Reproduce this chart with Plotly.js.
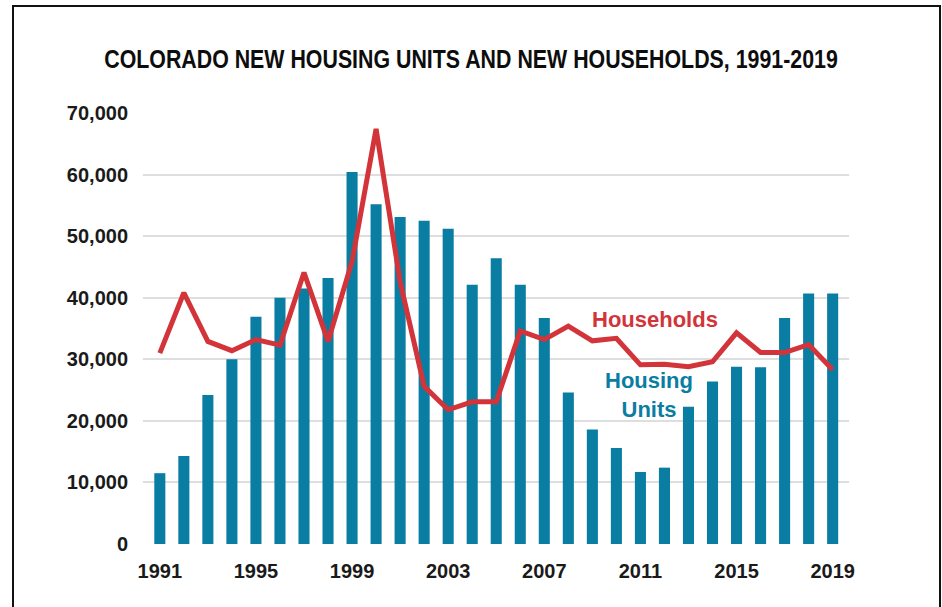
<!DOCTYPE html>
<html>
<head>
<meta charset="utf-8">
<script src="https://cdn.plot.ly/plotly-3.0.1.min.js"></script>
<style>
  html, body { margin: 0; padding: 0; background: #fff; }
  #wrap { position: relative; width: 942px; height: 607px; }
  #chart { position: absolute; left: 0; top: 0; width: 942px; height: 607px; }
  #frame { position: absolute; left: 12px; top: 5px; width: 925px; height: 610px;
           border-left: 2px solid #111; border-right: 2px solid #111; border-top: 2px solid #111;
           pointer-events: none; }
</style>
</head>
<body>
<div id="wrap">
  <div id="chart"></div>
  <div id="frame"></div>
</div>
<script>
const years = [1991,1992,1993,1994,1995,1996,1997,1998,1999,2000,2001,2002,2003,2004,2005,
               2006,2007,2008,2009,2010,2011,2012,2013,2014,2015,2016,2017,2018,2019];
const housingUnits = [11500,14300,24200,30000,36900,40000,41500,43200,60400,55200,53100,52500,51200,42100,46400,
                      42100,36700,24600,18600,15600,11700,12400,22300,26400,28800,28700,36700,40700,40700];
const households = [31000,40800,32900,31400,33200,32300,44100,32900,45900,67400,42600,25600,21800,23100,23100,
                    34600,33200,35400,33000,33400,29100,29200,28800,29600,34300,31100,31100,32400,28300];
const xTickVals = [1991,1995,1999,2003,2007,2011,2015,2019];
const yTickVals = [0,10000,20000,30000,40000,50000,60000,70000];
const titleText = "COLORADO NEW HOUSING UNITS AND NEW HOUSEHOLDS, 1991-2019";

const teal = "#0A7DA2";
const red = "#D2343A";
const tickFont = { family: "Liberation Sans, Arial, sans-serif", size: 20, color: "#1a1a1a", weight: "bold" };

const traces = [
  { type: "bar", x: years, y: housingUnits, marker: { color: teal }, width: 0.46,
    name: "Housing Units", hoverinfo: "x+y" },
  { type: "scatter", mode: "lines", x: years, y: households,
    line: { color: red, width: 5, shape: "linear" }, name: "Households" }
];

const layout = {
  width: 942, height: 607,
  margin: { l: 143, r: 93, t: 113, b: 63 },
  paper_bgcolor: "#fff", plot_bgcolor: "#fff",
  showlegend: false,
  title: { text: "<b>" + titleText + "</b>", x: 0.5, xanchor: "center", y: 0.903, yanchor: "middle",
           xref: "paper",
           font: { family: "Liberation Sans, Arial, sans-serif", size: 26, color: "#0d0d0d" } },
  xaxis: { range: [1990.3, 2019.68], tickvals: xTickVals, ticktext: xTickVals.map(String),
           showgrid: false, zeroline: false, showline: false, ticks: "",
           ticklabelstandoff: 13,
           tickfont: tickFont },
  yaxis: { range: [0, 70000], tickvals: yTickVals, ticktext: yTickVals.map(v => v.toLocaleString("en-US")),
           showgrid: true, gridcolor: "#dedede", gridwidth: 2, zeroline: false, showline: false, ticks: "",
           ticklabelstandoff: 14,
           tickfont: tickFont },
  annotations: [
    { x: 2011.59, y: 36400, xref: "x", yref: "y", text: "<b>Households</b>", showarrow: false,
      font: { family: "Liberation Sans, Arial, sans-serif", size: 22, color: red } },
    { x: 2011.34, y: 24200, xref: "x", yref: "y", text: "<b>Housing<br>Units</b>", showarrow: false,
      align: "center",
      font: { family: "Liberation Sans, Arial, sans-serif", size: 22, color: teal } }
  ]
};

Plotly.newPlot("chart", traces, layout, { staticPlot: true, displayModeBar: false }).then(function () {
  // condense the title horizontally, like the reference's narrow typeface
  const t = document.querySelector(".gtitle");
  if (!t) return;
  const bb = t.getBBox();
  const targetW = 734, targetCx = 471;
  const s = targetW / bb.width;
  const cx = bb.x + bb.width / 2;
  const prev = t.getAttribute("transform") || "";
  t.setAttribute("transform", "translate(" + targetCx + ",0) scale(" + s + ",1) translate(" + (-cx) + ",0) " + prev);
});
</script>
</body>
</html>
